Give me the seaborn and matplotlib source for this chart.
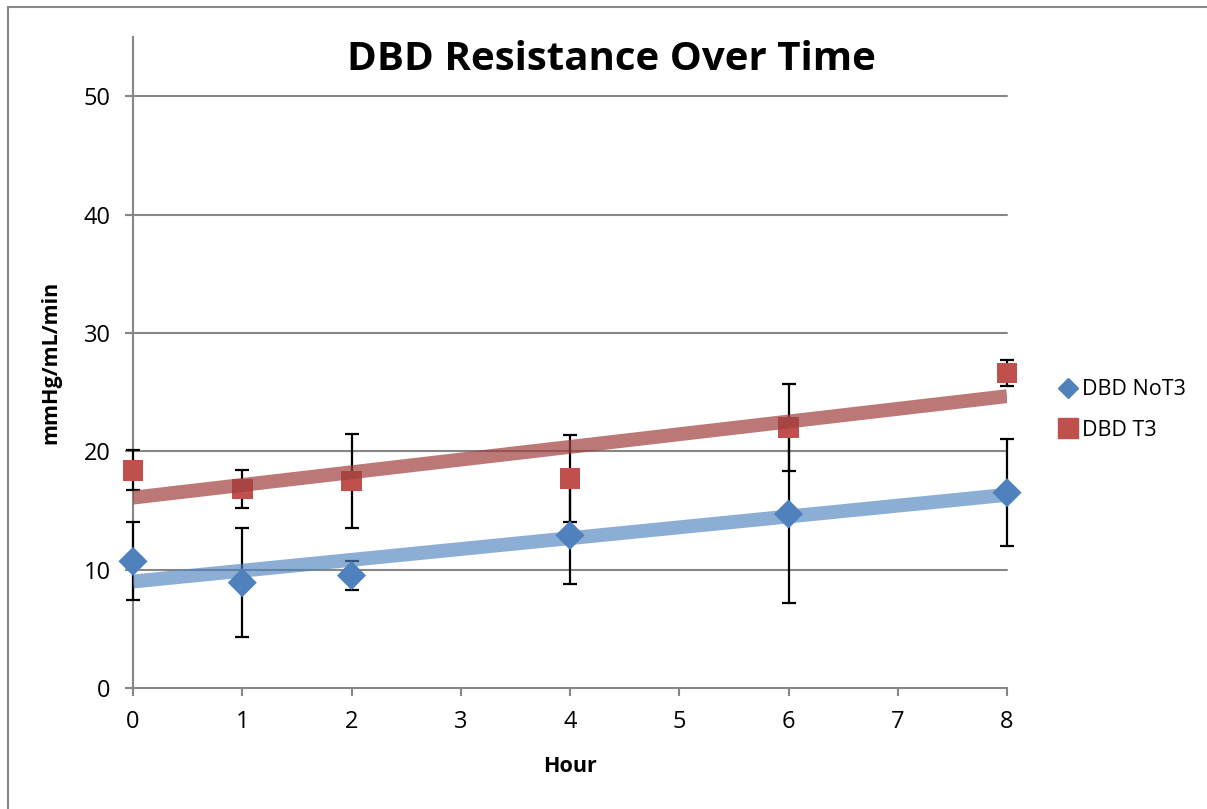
import numpy as np
import pandas as pd
import seaborn as sns
import matplotlib.pyplot as plt
from matplotlib.lines import Line2D
from matplotlib.patches import Rectangle

# data
hours_not3 = [0, 1, 2, 4, 6, 8]
mean_not3 = [10.7, 8.9, 9.5, 12.9, 14.7, 16.5]
err_not3 = [3.3, 4.6, 1.2, 4.1, 7.5, 4.5]

hours_t3 = [0, 1, 2, 4, 6, 8]
mean_t3 = [18.4, 16.8, 17.5, 17.7, 22.0, 26.6]
err_t3 = [1.7, 1.6, 4.0, 3.7, 3.7, 1.1]

series_names = ["DBD NoT3", "DBD T3"]
x_ticks = [0, 1, 2, 3, 4, 5, 6, 7, 8]
y_ticks = [0, 10, 20, 30, 40, 50]

BLUE = "#4F81BD"
RED = "#C0504D"
GRID = "#868686"

sns.set_style("white")
plt.rcParams['font.family'] = ['Open Sans', 'DejaVu Sans']
plt.rcParams['text.color'] = 'black'
plt.rcParams['axes.labelcolor'] = 'black'

df = pd.concat([
    pd.DataFrame({'Hour': hours_not3, 'Value': mean_not3, 'Err': err_not3, 'Series': series_names[0]}),
    pd.DataFrame({'Hour': hours_t3, 'Value': mean_t3, 'Err': err_t3, 'Series': series_names[1]}),
])

fig = plt.figure(figsize=(12.07, 8.09), dpi=100)
ax = fig.add_axes([133 / 1207, 1 - 688 / 809, 874 / 1207, 651 / 809])

# outer chart border
fig.patches.append(Rectangle((8 / 1207, -0.05), 1.1, 0.05 + 1 - 7 / 809, transform=fig.transFigure,
                             fill=False, edgecolor=GRID, linewidth=1.5, zorder=0))

ax.set_xlim(0, 8)
ax.set_ylim(0, 55)

for y in y_ticks[1:]:
    ax.plot([-0.06, 8], [y, y], color=GRID, linewidth=1.5, clip_on=False, zorder=1)

# error bars
for name in series_names:
    sub = df[df['Series'] == name]
    ax.errorbar(sub['Hour'], sub['Value'], yerr=sub['Err'], fmt='none', ecolor='black',
                elinewidth=1.6, capsize=5, capthick=1.6, zorder=3, clip_on=False)

# markers
sns.scatterplot(data=df, x='Hour', y='Value', hue='Series', style='Series',
                markers={series_names[0]: 'D', series_names[1]: 's'},
                palette={series_names[0]: BLUE, series_names[1]: RED},
                s=220, edgecolor='none', legend=False, ax=ax, zorder=4, clip_on=False)

# linear trendlines
sns.regplot(x=hours_not3, y=mean_not3, scatter=False, ci=None, truncate=True, ax=ax,
            line_kws={'color': BLUE, 'alpha': 0.65, 'linewidth': 10, 'solid_capstyle': 'butt', 'zorder': 5})
sns.regplot(x=hours_t3, y=mean_t3, scatter=False, ci=None, truncate=True, ax=ax,
            line_kws={'color': '#9E3F3C', 'alpha': 0.7, 'linewidth': 10, 'solid_capstyle': 'butt', 'zorder': 5})

ax.set_xticks(x_ticks)
ax.set_yticks(y_ticks)
ax.tick_params(axis='both', labelsize=17, colors=GRID, labelcolor='black', length=6, width=1.5,
               direction='out', left=True, bottom=True)
ax.tick_params(axis='x', pad=10)
ax.tick_params(axis='y', pad=10)
for side in ['top', 'right']:
    ax.spines[side].set_visible(False)
for side in ['left', 'bottom']:
    ax.spines[side].set_color(GRID)
    ax.spines[side].set_linewidth(1.5)

ax.set_xlabel('Hour', fontsize=15.5, fontweight='bold', labelpad=16)
ax.set_ylabel('mmHg/mL/min', fontsize=15.5, fontweight='bold', labelpad=16)
fig.text(611 / 1207, 1 - 60 / 809, 'DBD Resistance Over Time', fontsize=29, fontweight='bold',
         ha='center', va='center')

handles = [
    Line2D([], [], marker='D', color=BLUE, linestyle='none', markersize=10),
    Line2D([], [], marker='s', color=RED, linestyle='none', markersize=14),
]
fig.legend(handles, series_names, loc='center left', bbox_to_anchor=(1036 / 1207, 1 - 410 / 809),
           frameon=False, fontsize=15.5, handletextpad=0.05, labelspacing=0.9, handlelength=1.2)

fig.savefig('out.png', dpi=100)
